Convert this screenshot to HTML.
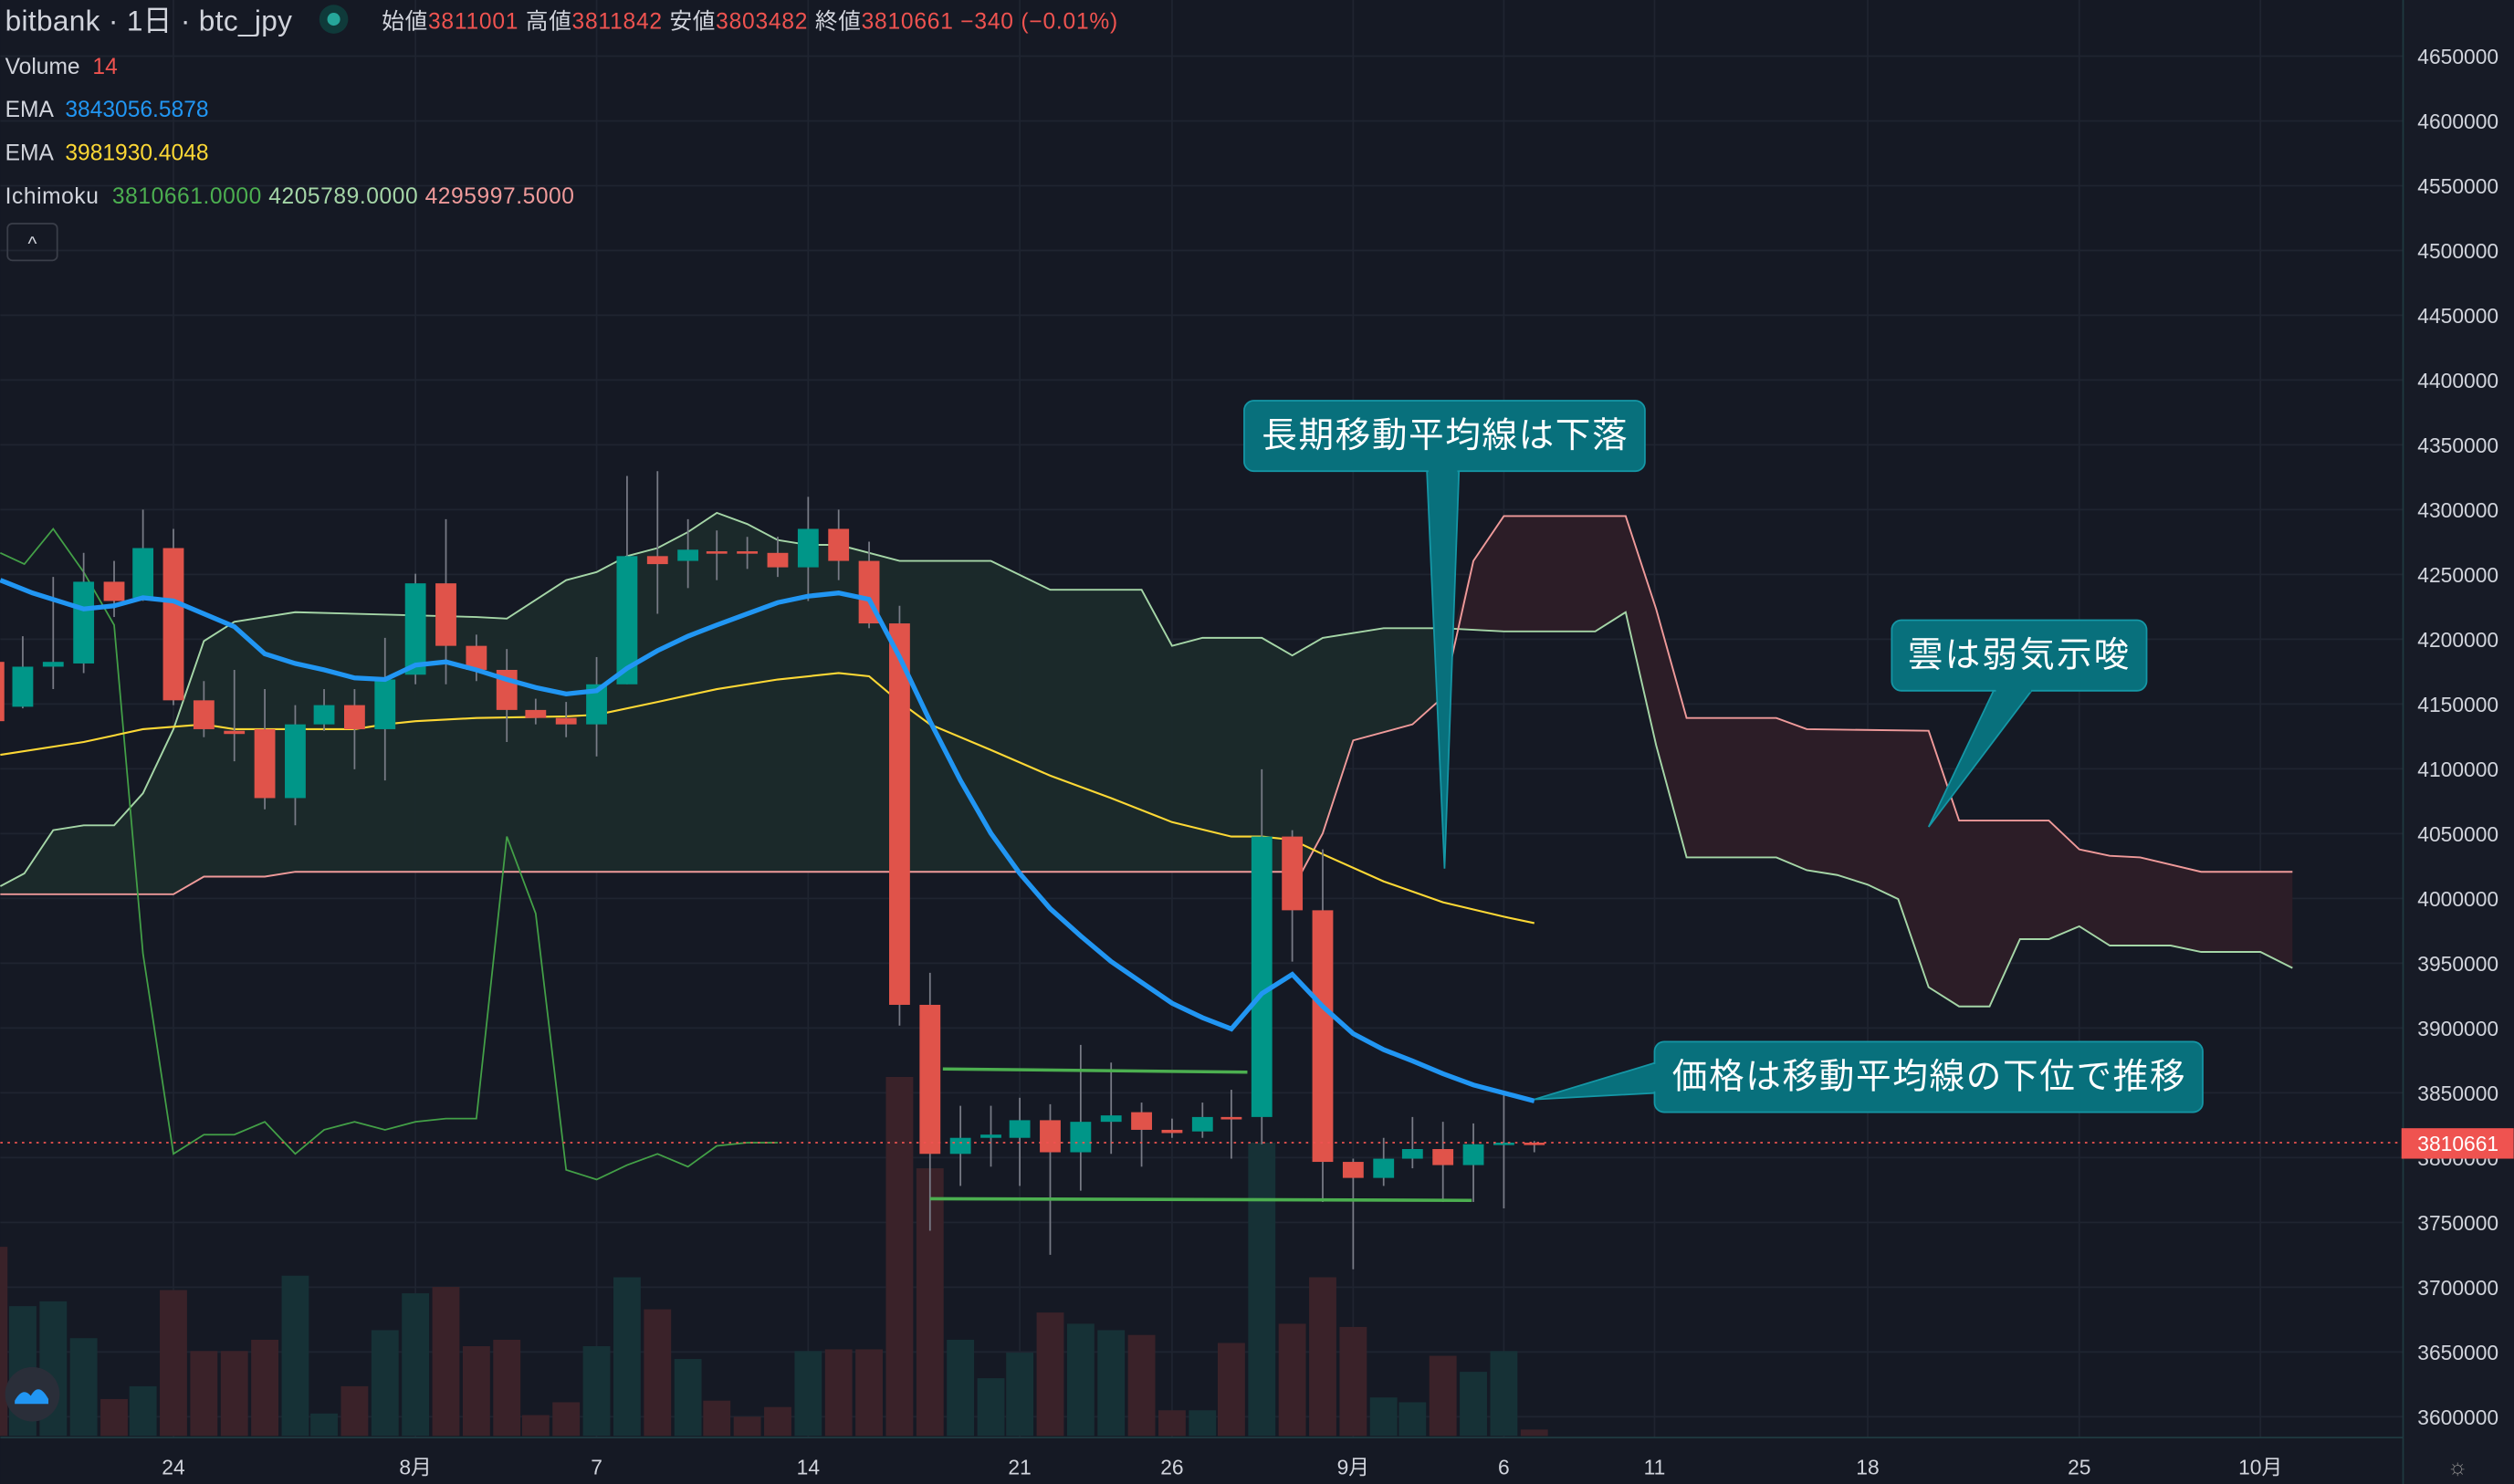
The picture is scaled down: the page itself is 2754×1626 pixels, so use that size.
<!DOCTYPE html>
<html><head><meta charset="utf-8">
<style>
html,body{margin:0;padding:0;background:#151924;}
svg{display:block;}
text{font-family:"Liberation Sans","Noto Sans CJK JP",sans-serif;}
</style></head>
<body>
<svg id="s" width="2754" height="1626" viewBox="0 0 1568 926" xmlns="http://www.w3.org/2000/svg">
<rect width="1568" height="926" fill="#151924"/>
<g id="grid" stroke="#1f2430" stroke-width="1"></g>
<g id="vol"></g>
<polygon id="cg" fill="#1b2a2b" opacity="0.95"/>
<polygon id="cr" fill="#2c1d27"/>
<polyline id="la" fill="none" stroke="#a5d6a7" stroke-width="1.1"/>
<polyline id="lb" fill="none" stroke="#ef9a9a" stroke-width="1.1"/>
<polyline id="ch" fill="none" stroke="#43a047" stroke-width="1"/>
<polyline id="ye" fill="none" stroke="#fdd835" stroke-width="1.2"/>
<g id="cand"></g>
<polyline id="bl" fill="none" stroke="#2196f3" stroke-width="3"/>
<line x1="588" y1="667" x2="778" y2="669" stroke="#4caf50" stroke-width="2"/>
<line x1="580" y1="748" x2="918" y2="749" stroke="#4caf50" stroke-width="2"/>
<line x1="0" y1="713" x2="1498" y2="713" stroke="#ef5350" stroke-width="1" stroke-dasharray="1.5,3"/>
<g fill="#08707c" stroke="#1597a6" stroke-width="1">
<polygon points="890,294 910,294 901,542"/>
<rect x="776" y="250" width="250" height="44" rx="6"/>
<polygon points="1244,430 1268,430 1203,516"/>
<rect x="1180" y="387" width="159" height="44" rx="6"/>
<polygon points="1033,663 1033,682 957,686"/>
<rect x="1032" y="650" width="342" height="44" rx="6"/>
</g>
<rect x="891" y="293" width="18" height="3" fill="#08707c"/>
<rect x="1245" y="429" width="22" height="3" fill="#08707c"/>
<rect x="1031" y="664" width="3" height="17" fill="#08707c"/>
<g fill="#ffffff" font-size="22">
<text x="787" y="279" textLength="228">長期移動平均線は下落</text>
<text x="1190" y="416" textLength="138">雲は弱気示唆</text>
<text x="1043" y="679" textLength="320">価格は移動平均線の下位で推移</text>
</g>
<rect x="1499" y="0" width="69" height="926" fill="#171b26"/>
<line x1="1499" y1="0" x2="1499" y2="926" stroke="#1f3a40" stroke-width="1"/>
<line x1="0" y1="897" x2="1499" y2="897" stroke="#1f3a40" stroke-width="1"/>
<g id="pl" fill="#d1d4dc" font-size="13"></g>
<rect x="1498" y="704" width="70" height="19" fill="#ef5350"/>
<text x="1508" y="718" fill="#fff" font-size="13">3810661</text>
<g fill="#d1d4dc" font-size="13" text-anchor="middle">
<text x="108" y="920">24</text><text x="259" y="920">8月</text><text x="372" y="920">7</text><text x="504" y="920">14</text>
<text x="636" y="920">21</text><text x="731" y="920">26</text><text x="844" y="920">9月</text><text x="938" y="920">6</text>
<text x="1032" y="920">11</text><text x="1165" y="920">18</text><text x="1297" y="920">25</text><text x="1410" y="920">10月</text>
</g>
<text x="1533" y="920" fill="#888" font-size="14" text-anchor="middle">☼</text>
<circle cx="20" cy="870" r="17" fill="#2a2e39"/>
<path d="M9,874 q5,-9 10,-3 q5,-9 11,2 l0,3 l-21,0z" fill="#2196f3"/>
<g font-size="18" fill="#d1d4dc"><text x="3" y="19" textLength="179">bitbank · 1日 · btc_jpy</text></g>
<circle cx="208" cy="12" r="9" fill="#0f3a3a"/><circle cx="208" cy="12" r="4" fill="#26a69a"/>
<g font-size="14">
<text x="238" y="18" fill="#d1d4dc" textLength="459">始値<tspan fill="#ef5350">3811001</tspan> 高値<tspan fill="#ef5350">3811842</tspan> 安値<tspan fill="#ef5350">3803482</tspan> 終値<tspan fill="#ef5350">3810661</tspan> <tspan fill="#ef5350">−340 (−0.01%)</tspan></text>
<text x="3" y="46" fill="#d1d4dc">Volume <tspan fill="#ef5350" dx="4">14</tspan></text>
<text x="3" y="73" fill="#d1d4dc">EMA <tspan fill="#2196f3" dx="4">3843056.5878</tspan></text>
<text x="3" y="100" fill="#d1d4dc">EMA <tspan fill="#fdd835" dx="4">3981930.4048</tspan></text>
<text x="3" y="127" fill="#d1d4dc" textLength="355">Ichimoku <tspan fill="#4caf50" dx="4">3810661.0000</tspan> <tspan fill="#a5d6a7">4205789.0000</tspan> <tspan fill="#ef9a9a">4295997.5000</tspan></text>
</g>
<rect x="4.5" y="139.5" width="31" height="23" rx="3" fill="none" stroke="#3a3e49"/>
<text x="20" y="156" fill="#d1d4dc" font-size="12" text-anchor="middle">^</text>
</svg>
<script>
const NS="http://www.w3.org/2000/svg";
function el(p,t,a){const e=document.createElementNS(NS,t);for(const k in a)e.setAttribute(k,a[k]);document.getElementById(p).appendChild(e);return e;}
function y(p){return 35+(4650000-p)/50000*40.43;}
for(let p=3600000;p<=4650000;p+=50000){const yy=y(p);el('grid','line',{x1:0,y1:yy,x2:1499,y2:yy});
 const t=el('pl','text',{x:1508,y:yy+5});t.textContent=p;}
[108,259,372,504,636,731,844,938,1032,1165,1297,1410].forEach(x=>el('grid','line',{x1:x,y1:0,x2:x,y2:897}));
const C=[[-4,'r',413,450,400,455],[14,'g',416,441,397,442],[33,'g',413,416,360,430],[52,'g',363,414,345,420],[71,'r',363,375,350,385],[89,'g',342,373,318,375],[108,'r',342,437,330,440],[127,'r',437,455,425,460],[146,'r',456,458,418,475],[165,'r',455,498,430,505],[184,'g',452,498,440,515],[202,'g',440,452,430,456],[221,'r',440,455,430,480],[240,'g',424,455,398,487],[259,'g',364,421,358,427],[278,'r',364,403,324,427],[297,'r',403,418,396,425],[316,'r',418,443,405,463],[334,'r',443,448,436,452],[353,'r',448,452,438,460],[372,'g',427,452,410,472],[391,'g',347,427,297,427],[410,'r',347,352,294,383],[429,'g',343,350,324,367],[447,'r',344,345,331,362],[466,'r',344,345,335,355],[485,'r',345,354,335,360],[504,'g',330,354,310,375],[523,'r',330,350,318,362],[542,'r',350,389,338,392],[561,'r',389,627,378,640],[580,'r',627,720,607,768],[599,'g',710,720,690,740],[618,'g',708,710,690,728],[636,'g',699,710,685,740],[655,'r',699,719,689,783],[674,'g',700,719,652,743],[693,'g',696,700,663,720],[712,'r',694,705,688,728],[731,'r',705,707,698,710],[750,'g',697,706,688,710],[768,'r',697,698,680,723],[787,'g',522,697,480,714],[806,'r',522,568,518,600],[825,'r',568,725,530,750],[844,'r',725,735,723,792],[863,'g',723,735,710,740],[881,'g',717,723,697,729],[900,'r',717,727,700,750],[919,'g',714,727,701,750],[938,'g',713,714,683,754],[957,'r',713,714,712,719]];
const V=[778,815,812,835,873,865,805,843,843,836,796,882,865,830,807,803,840,836,883,875,840,797,817,848,874,884,878,843,842,842,672,729,836,860,844,819,826,830,833,880,880,838,713,826,797,828,872,875,846,856,843,892];
C.forEach((c,i)=>{const [x,col,a,b,h,l]=c;
 el('vol','rect',{x:x-8.5,y:V[i],width:17,height:896-V[i],fill:col=='g'?'#163136':'#3a2229'});
 el('cand','line',{x1:x,y1:h,x2:x,y2:l,stroke:'#787b86','stroke-width':1});
 el('cand','rect',{x:x-6.5,y:Math.min(a,b),width:13,height:Math.max(1.5,Math.abs(b-a)),fill:col=='g'?'#009688':'#e0534a'});});
const P=a=>a.map(p=>p.join(',')).join(' ');
const A=[[0,553],[15,545],[33,518],[52,515],[71,515],[89,495],[108,455],[127,400],[146,388],[184,382],[297,385],[316,386],[353,362],[372,357],[391,347],[410,342],[429,332],[447,320],[466,327],[485,337],[504,340],[523,340],[561,350],[618,350],[655,368],[712,368],[731,403],[750,398],[787,398],[806,409],[825,398],[863,392],[900,392],[938,394],[995,394],[1014,382],[1033,465],[1052,535],[1108,535],[1127,543],[1146,546],[1165,552],[1184,561],[1203,616],[1222,628],[1241,628],[1260,586],[1278,586],[1297,578],[1316,590],[1354,590],[1373,594],[1410,594],[1430,604]];
const B=[[0,558],[108,558],[127,547],[165,547],[184,544],[812,544],[825,520],[844,462],[881,452],[900,435],[919,350],[938,322],[1014,322],[1033,380],[1052,448],[1108,448],[1127,455],[1203,456],[1222,512],[1278,512],[1297,530],[1316,534],[1335,535],[1373,544],[1430,544]];
document.getElementById('la').setAttribute('points',P(A));
document.getElementById('lb').setAttribute('points',P(B));
const Ag=A.filter(p=>p[0]<=905),Bg=B.filter(p=>p[0]<=905);
document.getElementById('cg').setAttribute('points',P(Ag.concat([[905,392]]).concat(Bg.slice().reverse())));
const Ar=A.filter(p=>p[0]>=900),Br=B.filter(p=>p[0]>=905);
document.getElementById('cr').setAttribute('points',P([[903,405]].concat(Br).concat(Ar.slice().reverse())));
document.getElementById('ch').setAttribute('points',P([[0,345],[15,352],[33,330],[52,357],[71,390],[89,595],[108,720],[127,708],[146,708],[165,700],[184,720],[202,705],[221,700],[240,705],[259,700],[278,698],[297,698],[316,522],[334,570],[353,730],[372,736],[391,727],[410,720],[429,728],[447,715],[466,713],[485,713]]));
document.getElementById('ye').setAttribute('points',P([[0,471],[52,463],[89,455],[127,452],[146,455],[165,455],[221,455],[240,452],[259,450],[297,448],[353,447],[372,446],[410,438],[447,430],[485,424],[523,420],[542,422],[561,438],[580,452],[618,468],[655,484],[693,498],[731,513],[768,522],[787,522],[806,524],[825,533],[863,550],[900,563],[938,572],[957,576]]));
document.getElementById('bl').setAttribute('points',P([[0,362],[20,370],[52,380],[71,378],[89,373],[108,375],[146,391],[165,408],[184,414],[202,418],[221,423],[240,424],[259,415],[278,413],[297,418],[316,424],[334,429],[353,433],[372,431],[391,417],[410,406],[429,397],[447,390],[466,383],[485,376],[504,372],[523,370],[542,374],[561,410],[580,450],[599,487],[618,520],[636,545],[655,567],[674,584],[693,600],[712,613],[731,626],[750,635],[768,642],[787,620],[806,608],[825,628],[844,645],[863,655],[881,662],[900,670],[919,677],[938,682],[957,687]]));
</script>
</body></html>
